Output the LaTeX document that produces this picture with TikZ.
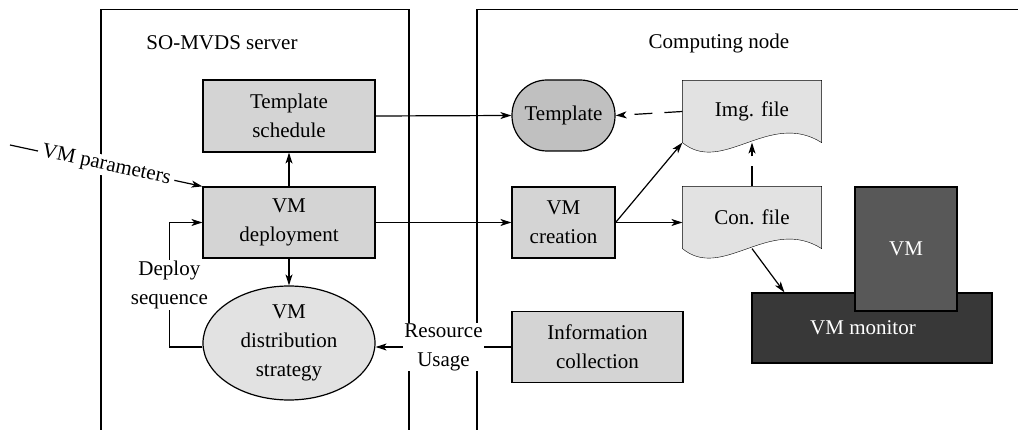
\documentclass[tikz,border=0pt]{standalone}
\usepackage{fontspec}
\setmainfont{Liberation Serif}
\newfontfamily\diagfont{Liberation Serif}
\usetikzlibrary{arrows.meta,calc,shapes.geometric,backgrounds}
\definecolor{boxgray}{HTML}{D4D4D4}
\definecolor{lightgray2}{HTML}{E2E2E2}
\definecolor{tplgray}{HTML}{C0C0C0}
\definecolor{mongray}{HTML}{383838}
\definecolor{vmgray}{HTML}{585858}
\begin{document}
\begin{tikzpicture}[x=1pt,y=-1pt,
  font=\diagfont\fontsize{21}{29}\selectfont,
  line width=1.2pt,
  arr/.style={-{Stealth[length=11pt,width=7pt,inset=3pt]}},
  box/.style={draw, fill=boxgray, align=center, inner sep=0pt},
  docnode/.style={align=center, inner sep=0pt, minimum width=138, minimum height=61},
  docshape/.style={draw, fill=lightgray2},
  lbl/.style={fill=white, align=center}
]
\useasboundingbox (0,0) rectangle (1018,430);

% panels
\draw (101,430) -- (101,9.5) -- (409,9.5) -- (409,430);
\draw (477,430) -- (477,9.5) -- (1018,9.5);
\node (t1) at (222,43) {SO-MVDS server};
\node (t2) at (719,43) {Computing node};

% server side
\node[box, minimum width=172, minimum height=72] (ts) at (289,116) {Template\\schedule};
\node[box, minimum width=172, minimum height=71] (dep) at (289,222.5) {VM\\deployment};
\node[ellipse, draw, fill=lightgray2, minimum width=172, minimum height=114, inner sep=0pt, align=center] (dist) at (289,343) {VM\\distribution\\strategy};

% computing node
\node[draw, fill=tplgray, rounded corners=35, minimum width=103, minimum height=71, inner sep=0pt] (tpl) at (563.5,115.5) {Template};
\node[box, minimum width=103, minimum height=71] (cre) at (563.5,222.5) {VM\\creation};
\node[docnode] (img) at (752,111.5) {Img. file};
\node[docnode] (con) at (752,217.5) {Con. file};
\node[box, minimum width=171, minimum height=71] (info) at (597.5,347) {Information\\collection};
\node[draw, fill=mongray, text=white, minimum width=240, minimum height=70, inner sep=0pt] (mon) at (872,328) {\hspace*{-18pt}VM monitor};
\node[draw, fill=vmgray, text=white, minimum width=102, minimum height=124, inner sep=0pt] (vm) at (906,249) {VM};

\begin{scope}[on background layer]
\draw[docshape] (img.south west) -- (img.north west) -- (img.north east) -- (img.south east)
  .. controls ($(img.south east)+(-52,-33)$) and ($(img.south west)+(40,33)$) .. (img.south west) -- cycle;
\draw[docshape] (con.south west) -- (con.north west) -- (con.north east) -- (con.south east)
  .. controls ($(con.south east)+(-52,-33)$) and ($(con.south west)+(40,33)$) .. (con.south west) -- cycle;
\end{scope}

% connectors
\coordinate (vp) at (10,145);
\draw[arr] (vp) -- node[sloped, fill=white, inner xsep=4pt, inner ysep=1pt] {VM parameters} (dep.north west);
\draw[arr] (dep.north) -- (ts.south);
\draw[arr] (dep.south) -- (dist.north);
\draw[arr] ([yshift=-4pt]dist.west) -- ++(-33,0) |- node[pos=0.25, lbl, inner sep=1pt] {Deploy\\sequence} (dep.west);
\draw[arr] (info.west) -- node[lbl, inner xsep=1pt, inner ysep=0pt] {Resource\\Usage} ([yshift=-4pt]dist.east);
\draw[arr] (ts.east) -- (tpl.west);
\draw[arr] (dep.east) -- (cre.west);
\draw[arr, dash pattern=on 18pt off 12pt] (img.west) -- (tpl.east);
\draw[arr] (cre.east) -- (cre.east -| con.west);
\draw[arr] (cre.east) -- (img.south west);
\draw[arr, dash pattern=on 20pt off 10pt] (con.north) -- (img.south);
\draw[arr] (con.south) -- ([xshift=33pt]mon.north west);
\end{tikzpicture}
\end{document}
